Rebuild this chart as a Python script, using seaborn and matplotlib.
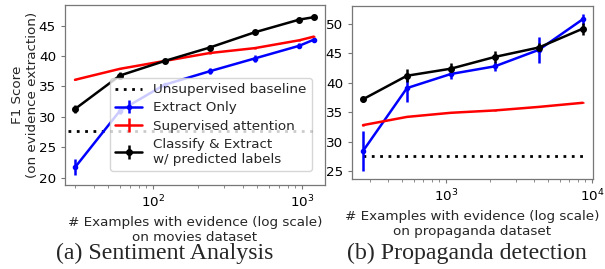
import numpy as np
import pandas as pd
import matplotlib
matplotlib.use("Agg")
import matplotlib.pyplot as plt
import seaborn as sns

# Left panel: movies dataset (sentiment)
movies_n = [30, 60, 120, 240, 480, 960, 1200]
movies_base_x = [27, 1200]
movies_base_y = [27.7, 27.7]
movies_extract = [21.7, 31.0, 35.3, 37.5, 39.6, 41.7, 42.7]
movies_extract_err = [1.3, 0.5, 0.3, 0.5, 0.6, 0.4, 0.3]
movies_supatt = [36.1, 37.9, 39.2, 40.5, 41.3, 42.6, 43.2]
movies_supatt_err = [0.1, 0.1, 0.1, 0.1, 0.1, 0.1, 0.1]
movies_classify = [31.3, 36.8, 39.2, 41.4, 43.9, 46.0, 46.4]
movies_classify_err = [0.6, 0.6, 0.4, 0.4, 0.3, 0.3, 0.3]

# Right panel: propaganda dataset
prop_n = [270, 540, 1080, 2160, 4320, 8640]
prop_base_x = [270, 8640]
prop_base_y = [27.5, 27.5]
prop_extract = [28.4, 39.1, 41.5, 42.8, 45.6, 50.8]
prop_extract_err = [3.4, 2.4, 0.8, 0.8, 2.2, 0.9]
prop_supatt = [32.8, 34.2, 34.9, 35.3, 35.9, 36.6]
prop_supatt_err = [0.1, 0.1, 0.1, 0.1, 0.1, 0.1]
prop_classify = [37.2, 41.2, 42.4, 44.4, 46.0, 49.2]
prop_classify_err = [0.4, 1.1, 0.9, 1.0, 0.8, 1.0]

sns.set_style("ticks")
plt.rcParams['font.family'] = ['DejaVu Sans']
FS = 9.7

fig = plt.figure(figsize=(6.05, 2.69), dpi=100)
ax1 = fig.add_axes([65 / 605, 1 - 185 / 269, 260 / 605, 180 / 269])
ax2 = fig.add_axes([352 / 605, 1 - 179 / 269, 241 / 605, 173 / 269])


def draw_panel(ax, n, base_x, base_y, ext, ext_e, sup, sup_e, cls, cls_e):
    base = pd.DataFrame({"n": base_x, "f1": base_y})
    sns.lineplot(data=base, x="n", y="f1", ax=ax, color="black", lw=2,
                 linestyle=(0, (1, 2)), label="Unsupervised baseline")
    ax.errorbar(n, ext, yerr=ext_e, color="blue", marker=".", ms=6, lw=1.8,
                elinewidth=1.8, label="Extract Only")
    ax.errorbar(n, sup, yerr=sup_e, color="red", lw=1.8, elinewidth=1.8,
                label="Supervised attention")
    ax.errorbar(n, cls, yerr=cls_e, color="black", marker="o", ms=4, lw=1.8,
                elinewidth=1.8, label="Classify & Extract\nw/ predicted labels")
    ax.set_xscale("log")
    ax.set_ylabel("")
    for side in ["top", "right", "bottom", "left"]:
        ax.spines[side].set_visible(True)
        ax.spines[side].set_color("#777777")
        ax.spines[side].set_linewidth(0.9)
    ax.tick_params(labelsize=FS, colors="#777777", labelcolor="black",
                   which="both", length=3)
    ax.tick_params(which="minor", length=2)


draw_panel(ax1, movies_n, movies_base_x, movies_base_y, movies_extract,
           movies_extract_err, movies_supatt, movies_supatt_err,
           movies_classify, movies_classify_err)
ax1.set_xlim(25.7, 1426)
ax1.set_ylim(18.8, 48.4)
ax1.set_yticks([20, 25, 30, 35, 40, 45])
ax1.set_xlabel("# Examples with evidence (log scale)\non movies dataset", fontsize=FS)
ax1.set_ylabel("F1 Score\n(on evidence extraction)", fontsize=FS, labelpad=0)
ax1.legend(loc="lower right", fontsize=FS, labelspacing=0.38, borderpad=0.4,
           handlelength=2.0, bbox_to_anchor=(0.975, 0.04))

draw_panel(ax2, prop_n, prop_base_x, prop_base_y, prop_extract,
           prop_extract_err, prop_supatt, prop_supatt_err,
           prop_classify, prop_classify_err)
ax2.get_legend().remove()
ax2.set_xlim(227, 10160)
ax2.set_ylim(23.64, 53.06)
ax2.set_yticks([25, 30, 35, 40, 45, 50])
ax2.set_xlabel("# Examples with evidence (log scale)\non propaganda dataset", fontsize=FS)

fig.text(165 / 605, 1 - 253 / 269, "(a) Sentiment Analysis", ha="center",
         va="center", fontsize=17.2, family="Liberation Serif")
fig.text(467 / 605, 1 - 253 / 269, "(b) Propaganda detection", ha="center",
         va="center", fontsize=17.2, family="Liberation Serif")

fig.savefig("out.png", dpi=100)
